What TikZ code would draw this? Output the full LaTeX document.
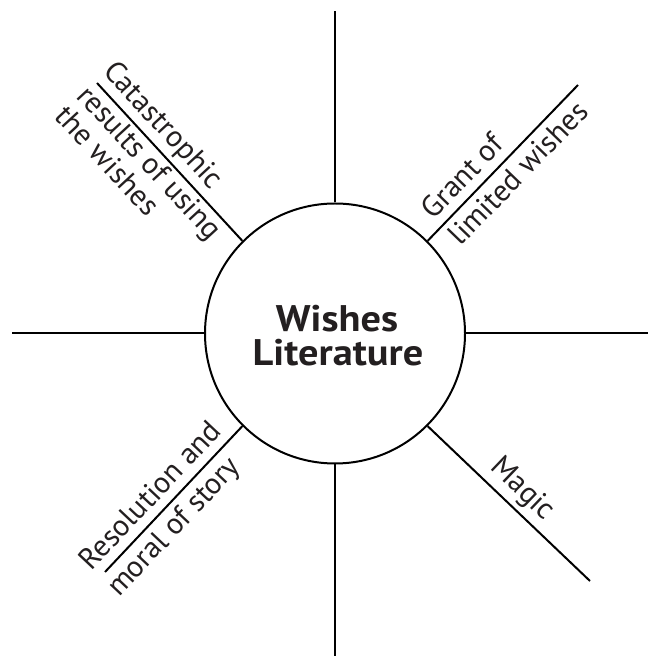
\documentclass[tikz,border=0pt]{standalone}
\usepackage{fontspec}
\setmainfont{PT Sans}
\newfontfamily\hubfont{PT Sans}[FakeStretch=1.09]
\definecolor{ink}{RGB}{35,31,32}
\begin{document}
\begin{tikzpicture}[x=1pt,y=1pt,line width=2pt,
  spoke/.style={draw=black,line width=2pt},
  armtext/.style={font=\fontsize{30}{32}\selectfont,text=ink,inner sep=0pt},
  hubtext/.style={font=\hubfont\bfseries\fontsize{37}{34}\selectfont,text=ink,inner sep=0pt}]
\useasboundingbox (0,0) rectangle (648,656);
\node[circle,draw=black,line width=2pt,minimum size=260pt,inner sep=0pt] (hub) at (335,322.5) {};
\node[hubtext,anchor=base] (t1) at (337,324) {Wishes};
\node[hubtext,anchor=base] (t2) at (338,290) {Literature};
% end points
\coordinate (top) at (335,645);
\coordinate (bot) at (335,0);
\coordinate (lft) at (12,322.5);
\coordinate (rgt) at (648,322.5);
\coordinate (ul) at (97,573);
\coordinate (ur) at (578,571);
\coordinate (ll) at (105,84);
\coordinate (lr) at (590,75);
\draw[spoke] (hub.north) -- (top);
\draw[spoke] (hub.south) -- (bot);
\draw[spoke] (hub.west) -- (lft);
\draw[spoke] (hub.east) -- (rgt);
\draw[spoke] (hub.135) -- (ul);
\draw[spoke] (hub.45) -- (ur);
\draw[spoke] (hub.225) -- (ll);
\draw[spoke] (hub.-45) -- (lr);
% upper left
\begin{scope}[shift={(ul)},rotate=-47.3,transform shape]
\node[armtext,anchor=base west] (a1) at (-5,11) {Catastrophic};
\node[armtext,anchor=base west] (a2) at (-5,-25) {results of using};
\node[armtext,anchor=base west] (a3) at (-5,-55) {the wishes};
\end{scope}
% upper right
\begin{scope}[shift={(hub.45)},rotate=46.0,transform shape]
\node[armtext,anchor=base west] (b1) at (18,10) {Grant of};
\node[armtext,anchor=base west] (b2) at (18,-28) {limited wishes};
\end{scope}
% lower left
\begin{scope}[shift={(ll)},rotate=46.7,transform shape]
\node[armtext,anchor=base west] (c1) at (-10,10) {Resolution and};
\node[armtext,anchor=base west] (c2) at (-10,-28) {moral of story};
\end{scope}
% lower right
\begin{scope}[shift={(hub.-45)},rotate=-43.7,transform shape]
\node[armtext,anchor=base] (d1) at (112,12) {Magic};
\end{scope}
\end{tikzpicture}
\end{document}
